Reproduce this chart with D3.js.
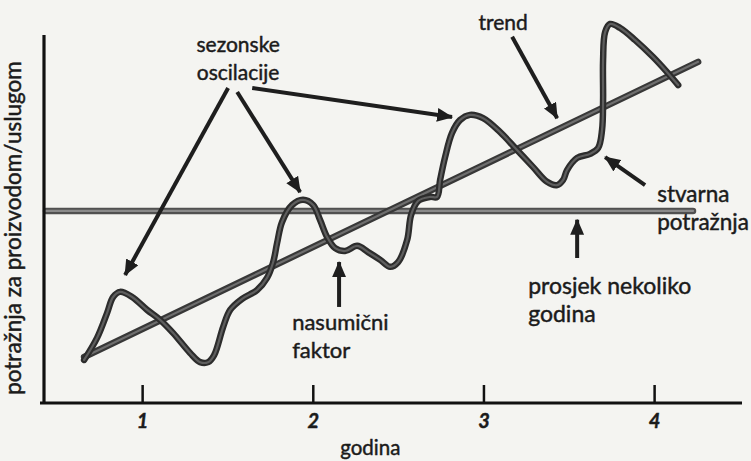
<!DOCTYPE html>
<html>
<head>
<meta charset="utf-8">
<script src="https://cdn.jsdelivr.net/npm/d3@7"></script>
<style>
  body { margin: 0; background: #f4f4f1; }
  svg { display: block; }
  text { font-family: Lato, "Open Sans", sans-serif; fill: #1b1b1b; stroke: #1b1b1b; stroke-width: 0.45px; }
</style>
</head>
<body>
<div id="chart"></div>
<script>
var width = 751;
var height = 461;

// godine (x) i potražnja (y) stvarne krivulje
var yearTicks = [1, 2, 3, 4];
var demandX = [0.660, 0.736, 0.795, 0.830, 0.871, 0.941, 1.029, 1.105, 1.182, 1.281,
               1.340, 1.387, 1.422, 1.475, 1.516, 1.586, 1.674, 1.732, 1.768, 1.791,
               1.820, 1.879, 1.943, 2.002, 2.043, 2.084, 2.131, 2.189, 2.260, 2.324,
               2.395, 2.453, 2.500, 2.553, 2.576, 2.617, 2.687, 2.728, 2.746, 2.775,
               2.816, 2.863, 2.922, 2.998, 3.098, 3.186, 3.291, 3.373, 3.432, 3.467,
               3.490, 3.549, 3.625, 3.672, 3.695, 3.701, 3.701, 3.713, 3.742, 3.801,
               3.889, 3.994, 4.076, 4.141];
var demandY = [11.7, 17.7, 24.5, 28.8, 30.2, 28.8, 25.3, 22.6, 19.0, 13.6,
               11.1, 11.1, 13.0, 20.7, 25.3, 28.3, 30.7, 34.0, 38.3, 43.5,
               49.2, 53.8, 55.2, 53.8, 49.7, 45.1, 42.1, 41.3, 42.7, 41.0,
               38.9, 37.0, 38.3, 44.3, 51.1, 54.9, 56.0, 56.0, 60.6, 66.8,
               73.4, 76.9, 78.3, 77.4, 73.6, 69.3, 64.1, 60.1, 59.2, 60.6,
               63.3, 66.6, 67.7, 69.3, 74.2, 82.3, 93.2, 100.8, 103.0, 101.9,
               98.6, 94.0, 89.9, 86.4];

// trend i prosjek
var trendX = [0.660, 4.258];
var trendY = [12.5, 92.7];
var averageX = [0.437, 4.228];
var averageY = [52.2, 52.2];

// oznake sa strelicama
var labels = [
  { lines: ["sezonske", "oscilacije"], x: 1.5625, y: 95.4, size: 21, anchor: "middle" },
  { lines: ["trend"], x: 3.115, y: 101.4, size: 21, anchor: "middle" },
  { lines: ["nasumični", "faktor"], x: 1.879, y: 19.8, size: 22, anchor: "start" },
  { lines: ["stvarna", "potražnja"], x: 4.018, y: 54.5, size: 22.5, anchor: "start" },
  { lines: ["prosjek nekoliko", "godina"], x: 3.262, y: 29.6, size: 23, anchor: "start" }
];
var arrows = [
  [1.504, 85.6, 0.900, 34.8],
  [1.557, 84.5, 1.926, 57.3],
  [1.645, 85.6, 2.816, 77.7],
  [3.168, 99.5, 3.432, 77.4],
  [2.154, 26.1, 2.154, 38.3],
  [3.947, 59.2, 3.713, 66.8],
  [3.549, 39.4, 3.549, 49.8]
];

var margin = {top: 35, right: 9, bottom: 58, left: 44};
var innerWidth = width - margin.left - margin.right;
var innerHeight = height - margin.top - margin.bottom;

var svg = d3.select("#chart")
    .append("svg")
    .attr("width", width)
    .attr("height", height);

var g = svg.append("g")
    .attr("transform", "translate(" + margin.left + "," + margin.top + ")");

var x = d3.scaleLinear()
    .domain([0.425, 4.515])
    .range([0, innerWidth]);

var y = d3.scaleLinear()
    .domain([0, 100])
    .range([innerHeight, 0]);

svg.append("defs").append("marker")
    .attr("id", "head")
    .attr("markerUnits", "userSpaceOnUse")
    .attr("viewBox", "0 0 15 13")
    .attr("refX", 14)
    .attr("refY", 6.5)
    .attr("markerWidth", 16)
    .attr("markerHeight", 14)
    .attr("orient", "auto")
  .append("path")
    .attr("d", "M0,0L15,6.5L0,13Z")
    .attr("fill", "#1e1e1e");

var line = d3.line()
    .x(function(d) { return x(d[0]); })
    .y(function(d) { return y(d[1]); });

function pairs(xs, ys) {
  return xs.map(function(v, i) { return [v, ys[i]]; });
}

// dvostruki potez kao na skenu
function thickLine(data, curve, outer, inner) {
  var l = line.curve(curve);
  g.append("path")
      .attr("d", l(data))
      .attr("fill", "none")
      .attr("stroke", outer)
      .attr("stroke-width", 6.5)
      .attr("stroke-linejoin", "round")
      .attr("stroke-linecap", "round");
  g.append("path")
      .attr("d", l(data))
      .attr("fill", "none")
      .attr("stroke", inner)
      .attr("stroke-width", 2.2)
      .attr("stroke-linejoin", "round")
      .attr("stroke-linecap", "round");
}

thickLine(pairs(averageX, averageY), d3.curveLinear, "#505050", "#8a8a8a");
thickLine(pairs(trendX, trendY), d3.curveLinear, "#383838", "#6e6e6e");
thickLine(pairs(demandX, demandY), d3.curveCatmullRom.alpha(0.5), "#2c2c2c", "#5e5e5e");

// osi
var xAxis = g.append("g")
    .attr("transform", "translate(0," + innerHeight + ")")
    .call(d3.axisBottom(x).tickValues(yearTicks).tickSize(-18).tickPadding(0).tickFormat(d3.format("d")));
xAxis.select(".domain").remove();
xAxis.selectAll(".tick line").attr("stroke", "#111").attr("stroke-width", 2.5);
xAxis.selectAll(".tick text")
    .attr("y", 25)
    .attr("dy", 0)
    .attr("font-size", 20)
    .attr("font-weight", 700)
    .attr("font-style", "italic")
    .attr("fill", "#1b1b1b");

g.append("line")
    .attr("x1", x(0.425) - 4).attr("x2", x(4.515))
    .attr("y1", innerHeight).attr("y2", innerHeight)
    .attr("stroke", "#111").attr("stroke-width", 3.2);
g.append("line")
    .attr("x1", 0).attr("x2", 0)
    .attr("y1", 0).attr("y2", innerHeight)
    .attr("stroke", "#111").attr("stroke-width", 3.2);

g.append("text")
    .attr("x", x(2.337))
    .attr("y", innerHeight + 52)
    .attr("text-anchor", "middle")
    .attr("font-size", 20.5)
    .text("godina");

g.append("text")
    .attr("transform", "rotate(-90)")
    .attr("x", -193)
    .attr("y", -23)
    .attr("text-anchor", "middle")
    .attr("font-size", 22.5)
    .text("potražnja za proizvodom/uslugom");

// strelice
g.selectAll(".arrow")
    .data(arrows)
    .enter().append("line")
      .attr("class", "arrow")
      .attr("x1", function(d) { return x(d[0]); })
      .attr("y1", function(d) { return y(d[1]); })
      .attr("x2", function(d) { return x(d[2]); })
      .attr("y2", function(d) { return y(d[3]); })
      .attr("stroke", "#1e1e1e")
      .attr("stroke-width", 4)
      .attr("marker-end", "url(#head)");

var lab = g.selectAll(".lab")
    .data(labels)
    .enter().append("text")
      .attr("class", "lab")
      .attr("font-size", function(d) { return d.size; })
      .attr("text-anchor", function(d) { return d.anchor; })
      .attr("transform", function(d) { return "translate(" + x(d.x) + "," + y(d.y) + ")"; });

lab.selectAll("tspan")
    .data(function(d) { return d.lines; })
    .enter().append("tspan")
      .attr("x", 0)
      .attr("y", function(d, i) { return i * 28; })
      .text(function(d) { return d; });
</script>
</body>
</html>
